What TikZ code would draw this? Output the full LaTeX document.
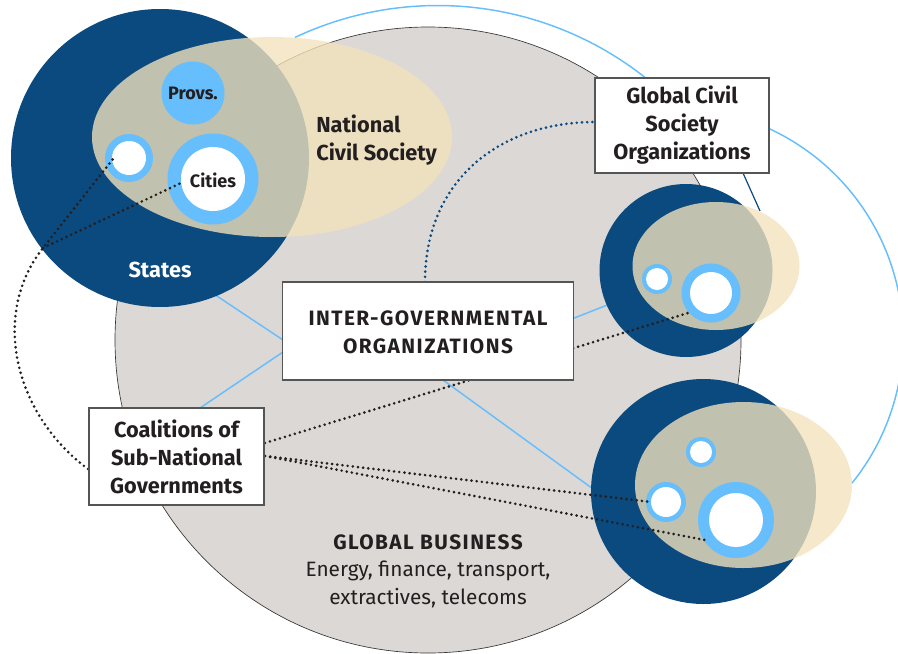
\documentclass[tikz,border=0pt]{standalone}
\usepackage{fontspec}
\setmainfont{Fira Sans}
\definecolor{navy}{RGB}{11,74,126}
\definecolor{sky}{RGB}{102,190,252}
\definecolor{greybg}{RGB}{220,216,213}
\definecolor{tanc}{RGB}{243,227,188}
\definecolor{ink}{RGB}{35,31,32}
\definecolor{boxline}{RGB}{85,85,85}
\begin{document}
\begin{tikzpicture}[x=0.75pt,y=-0.75pt,
  lbl/.style={text=ink, font=\bfseries\fontsize{16.3}{21}\selectfont, align=center, inner sep=0pt},
  small/.style={text=ink, font=\bfseries\fontsize{13.5}{15}\selectfont, inner sep=0pt},
  box/.style={draw=boxline, fill=white, line width=0.8pt, inner sep=0pt},
  dots/.style={line width=2.2pt, dash pattern=on 0pt off 3.9pt, line cap=round},
  link/.style={draw=sky, line width=1.1pt},
  tanfill/.style={fill=tanc, fill opacity=0.78},
  ring/.style={fill=sky},
  hole/.style={fill=white}]
\useasboundingbox (0,0) rectangle (898,653);

% ---- named points
\coordinate (gb) at (428,340);          % global business centre
\coordinate (st) at (160,158);          % states
\coordinate (ncs) at (272,137);
\coordinate (mid) at (686,270.5);
\coordinate (midt) at (716,266);
\coordinate (bot) at (703.5,491.5);
\coordinate (bott) at (743.5,485);
\coordinate (prov) at (193,93);
\coordinate (sr) at (129,158);
\coordinate (city) at (213,179);
\coordinate (mr1) at (657,279);
\coordinate (mr2) at (711,293);
\coordinate (br1) at (701,452);
\coordinate (br2) at (666,502);
\coordinate (br3) at (736,520);

% ---- light blue arcs
\coordinate (a1s) at (295,37.4);
\coordinate (a2s) at (768.8,128.5);
\draw[link] (a1s) arc[start angle=115.2, end angle=51.8, radius=251.25pt];
\draw[link] (a2s) arc[start angle=65.3, end angle=-38.9, radius=173.1pt];

% ---- global business circle
\fill[greybg] (gb) circle[radius=313];
\draw[ink!90, line width=0.5pt] (gb) circle[radius=313];

% ---- light blue links
\coordinate (l1a) at (200,284.8);
\coordinate (l1b) at (283,340);
\coordinate (l2a) at (283,352);
\coordinate (l2b) at (200,408);
\coordinate (l3a) at (573,318.5);
\coordinate (l3b) at (620,300);
\coordinate (l4a) at (443,380);
\coordinate (l4b) at (600,494);
\draw[link] (l1a) -- (l1b);
\draw[link] (l2a) -- (l2b);
\draw[link] (l3a) -- (l3b);
\draw[link] (l4a) -- (l4b);

% ---- navy circles
\fill[navy] (st) circle[radius=149];
\fill[navy] (mid) circle[radius=86.5];
\fill[navy] (bot) circle[radius=112.5];

% ---- navy line GCSO to middle cluster
\coordinate (n1a) at (743,173);
\coordinate (n1b) at (760,211);
\draw[navy, line width=0.9pt] (n1a) -- (n1b);

% ---- tan ellipses
\path[tanfill] (ncs) ellipse[x radius=180, y radius=100];
\path[tanfill] (midt) ellipse[x radius=83.5, y radius=64];
\path[tanfill] (bott) ellipse[x radius=108.5, y radius=83];

% ---- inner circles
\fill[ring] (prov) circle[radius=31.5];
\fill[ring] (sr) circle[radius=24]; \fill[hole] (sr) circle[radius=17];
\fill[ring] (city) circle[radius=45.5]; \fill[hole] (city) circle[radius=32];
\fill[ring] (mr1) circle[radius=15]; \fill[hole] (mr1) circle[radius=11];
\fill[ring] (mr2) circle[radius=29.5]; \fill[hole] (mr2) circle[radius=21];
\fill[ring] (br1) circle[radius=15]; \fill[hole] (br1) circle[radius=11];
\fill[ring] (br2) circle[radius=20]; \fill[hole] (br2) circle[radius=15];
\fill[ring] (br3) circle[radius=38]; \fill[hole] (br3) circle[radius=27];

% ---- dotted connectors
\coordinate (j) at (43,248);
\coordinate (srL) at (113,159);
\coordinate (cityL) at (181,183);
\coordinate (coL) at (88,469);
\coordinate (coR1) at (265,443);
\coordinate (coR2) at (265,456);
\coordinate (mr2e) at (688,313);
\coordinate (br2e) at (651,502);
\coordinate (br3e) at (705,540);
\coordinate (igoT) at (425,282);
\coordinate (gcL) at (595,122);
\draw[dots, ink] (coL) .. controls (15,415) and (-10,315) .. (j) -- (srL);
\draw[dots, ink] (j) -- (cityL);
\draw[dots, ink] (coR1) -- (mr2e);
\draw[dots, ink] (coR2) -- (br2e);
\draw[dots, ink] (coR2) -- (br3e);
\draw[dots, navy] (igoT) .. controls (425,180) and (500,122) .. (gcL);

% ---- boxes
\node[box, minimum width=130.5pt, minimum height=71.25pt] (gcso) at (682,125.5) {};
\node[lbl] at (gcso.center) {Global Civil\\Society\\Organizations};
\node[box, minimum width=218.25pt, minimum height=73.5pt] (igo) at (428,331) {};
\node[lbl, font=\bfseries\fontsize{15.6}{21}\selectfont\addfontfeature{LetterSpace=7}] at (428,332) {INTER-GOVERNMENTAL\\ORGANIZATIONS};
\node[box, minimum width=131.25pt, minimum height=72.75pt] (coal) at (176.5,456.5) {};
\node[lbl] at (coal.center) {Coalitions of\\Sub-National\\Governments};

% ---- other labels
\node[small] at (prov) {Provs.};
\node[small] at (213,180) {Cities};
\node[lbl, text=white] at (160,270) {States};
\node[lbl, align=left, anchor=west] at (316,140) {National\\Civil Society};
\node[lbl, font=\fontsize{15.6}{20.6}\selectfont] at (428,571) {{\bfseries\addfontfeature{LetterSpace=7}GLOBAL BUSINESS}\\Energy, finance, transport,\\extractives, telecoms};
\end{tikzpicture}
\end{document}
